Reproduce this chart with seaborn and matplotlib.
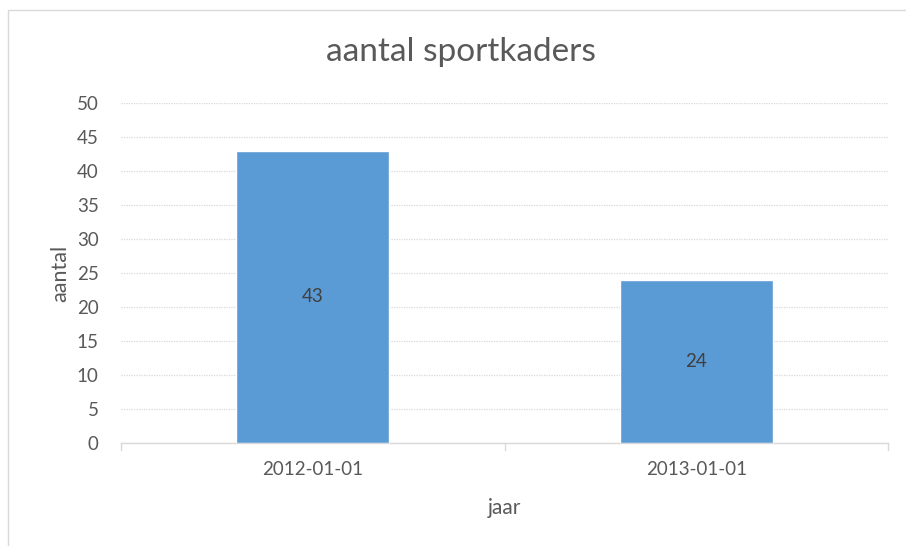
import matplotlib
matplotlib.use("Agg")
import matplotlib.pyplot as plt
import matplotlib.patches as mpatches
import seaborn as sns
import pandas as pd

categories = ["2012-01-01", "2013-01-01"]
values = [43, 24]
yticks = [0, 5, 10, 15, 20, 25, 30, 35, 40, 45, 50]

sns.set_style("white")
plt.rcParams['font.family'] = ['Lato', 'DejaVu Sans']

W, H = 906, 546
fig = plt.figure(figsize=(W / 100, H / 100), dpi=100)
ax = fig.add_axes([121 / W, 1 - 443 / H, (888 - 121) / W, (443 - 103) / H])

df = pd.DataFrame({"jaar": categories, "aantal": values})
sns.barplot(data=df, x="jaar", y="aantal", color="#5B9BD5", width=0.4,
            saturation=1, ax=ax, zorder=3)

ax.set_xlim(-0.5, 1.5)
ax.set_ylim(0, 50)
ax.set_yticks(yticks)
ax.yaxis.grid(True, color="#d9d9d9", linewidth=0.9, linestyle=(0, (1, 1)), zorder=0)
ax.xaxis.grid(False)
for s in ["top", "right", "left"]:
    ax.spines[s].set_visible(False)
ax.spines["bottom"].set_color("#d9d9d9")
ax.spines["bottom"].set_linewidth(1)

ax.tick_params(axis="y", length=0, labelsize=13.5, labelcolor="#595959", pad=16)
ax.tick_params(axis="x", length=0, labelsize=13.5, labelcolor="#595959", pad=13)
# category boundary ticks
for xb in [-0.5, 0.5, 1.5]:
    ax.plot([xb, xb], [0, -0.022], transform=ax.get_xaxis_transform(),
            color="#d9d9d9", linewidth=1, clip_on=False)

for i, v in enumerate(values):
    ax.text(i, v / 2, str(v), ha="center", va="center", fontsize=13.5, color="#404040", zorder=4)

ax.set_xlabel("jaar", fontsize=15, color="#595959", labelpad=14)
ax.set_ylabel("aantal", fontsize=15.5, color="#595959", labelpad=5)
fig.text(461 / W, 1 - 52 / H, "aantal sportkaders", ha="center", va="center",
         fontsize=24, color="#595959")

# outer chart border
fig.patches.append(mpatches.Rectangle((8 / W, -0.1), 1.2, 1 - 10 / H + 0.1,
                                      transform=fig.transFigure, fill=False,
                                      edgecolor="#d9d9d9", linewidth=1))

fig.savefig("out.png", dpi=100)
